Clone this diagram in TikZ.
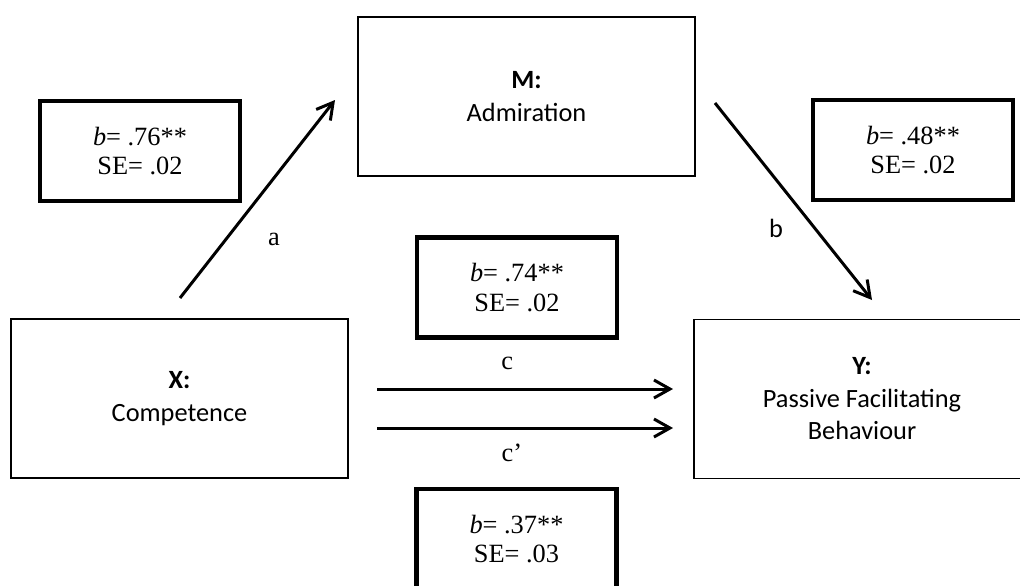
\documentclass[tikz,border=0pt]{standalone}
\usepackage{fontspec}
\setmainfont{Liberation Serif}
\setsansfont{Carlito}
\usetikzlibrary{arrows.meta}

\begin{document}
\begin{tikzpicture}[x=0.02cm, y=-0.02cm, auto, line width=1.7pt, -{Straight Barb[length=3.2mm,width=3.6mm]},
    main node/.style={draw, line width=1.1pt, minimum width=6.74cm, minimum height=3.18cm, align=center, font=\sffamily\fontsize{15}{18.5}\selectfont},
    stat node/.style={draw, line width=2.8pt, minimum width=4cm, minimum height=2cm, align=center, font=\fontsize{15}{17}\selectfont}]
    \clip (0,0) rectangle (1020,585);
    \node[main node] (1) at (179.5,398.5) {\textbf{X:}\\Competence};
    \node[main node] (2) at (526.5,96.5) {\textbf{M:}\\Admiration};
    \node[main node] (3) at (862,399) {\textbf{Y:}\\Passive Facilitating\\Behaviour};
    \node[stat node] (4) at (140,151) {\textit{b}= .76**\\SE= .02};
    \node[stat node] (5) at (913,150) {\textit{b}= .48**\\SE= .02};
    \node[stat node] (6) at (517,287.5) {\textit{b}= .74**\\SE= .02};
    \node[stat node] (7) at (516.5,539) {\textit{b}= .37**\\SE= .03};
    % free ends of the paths
    \coordinate (a0) at (180,298);
    \coordinate (a1) at (335,100);
    \coordinate (b0) at (715,103);
    \coordinate (b1) at (872,300);
    \coordinate (c0) at (377,389);
    \coordinate (c1) at (673,389);
    \coordinate (d0) at (377,428);
    \coordinate (d1) at (673,428);
    \path[every node/.style={font=\fontsize{15}{17}\selectfont}]
    (a0) edge node[pos=.435, swap, inner sep=11pt] {a} (a1)
    (b0) edge node[pos=.52, swap, inner sep=7pt, font=\sffamily\fontsize{15}{17}\selectfont] {b} (b1)
    (c0) edge node[pos=.44, inner sep=10pt] {c} (c1)
    (d0) edge node[pos=.456, swap, inner sep=8pt] {c’} (d1);
\end{tikzpicture}
\end{document}
